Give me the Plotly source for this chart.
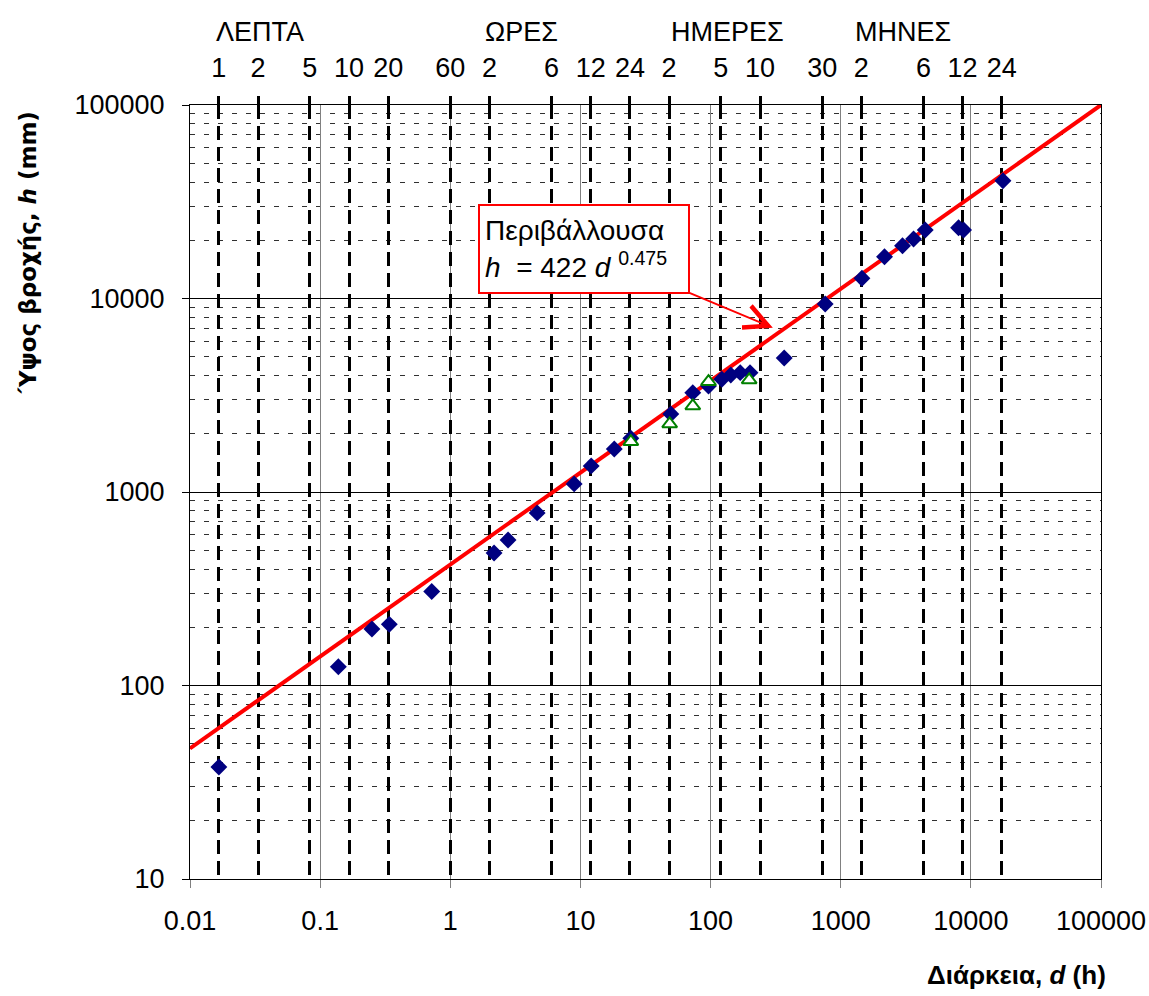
import math
import plotly.graph_objects as go

# ---- data ----
# observed maximum rainfall depths (navy diamonds): duration d (h), depth h (mm)
obs_d = [0.01667, 0.138, 0.25, 0.34, 0.72, 2.17, 2.78, 4.65, 8.95, 12.1, 18.2, 24.4,
         49.5, 73, 96.4, 122, 143, 169, 201, 368, 760, 1456, 2171, 2985, 3630, 4461,
         8044, 8790, 17650]
obs_h = [37.9, 125, 196, 207, 306, 484, 565, 780, 1101, 1364, 1669, 1896,
         2532, 3261, 3532, 3824, 4027, 4137, 4137, 4928, 9367, 12720, 16440, 18740,
         20300, 22590, 23210, 22590, 40600]
# second series (green open triangles)
tri_d = [24.4, 48.5, 73, 96.4, 198]
tri_h = [1820, 2248, 2784, 3718, 3793]
# envelope line h = 422 d^0.475 (end points)
env_d = [0.01, 100000]
env_h = [47.3, 100000]

# reference durations (h) shown as dashed lines with top labels
dur_vals = [1/60, 2/60, 5/60, 10/60, 20/60, 1, 2, 6, 12, 24, 48, 120, 240, 720,
            1440, 4320, 8640, 17280]
dur_text = ["1", "2", "5", "10", "20", "60", "2", "6", "12", "24", "2", "5", "10",
            "30", "2", "6", "12", "24"]
group_names = ["ΛΕΠΤΑ", "ΩΡΕΣ", "ΗΜΕΡΕΣ", "ΜΗΝΕΣ"]
group_start = [1/60, 2, 48, 1440]
group_shift = [-5, -6, 0, -8]

x_ticks = [0.01, 0.1, 1, 10, 100, 1000, 10000, 100000]
x_ticktext = ["0.01", "0.1", "1", "10", "100", "1000", "10000", "100000"]
y_ticks = [10, 100, 1000, 10000, 100000]
y_ticktext = ["10", "100", "1000", "10000", "100000"]

FONT = "Liberation Sans, Arial, sans-serif"

fig = go.Figure()

# invisible helper trace so the top (duration) axis is drawn
fig.add_trace(go.Scatter(x=[dur_vals[0]], y=[y_ticks[0]], xaxis="x2", mode="markers",
                         marker=dict(opacity=0), hoverinfo="skip", showlegend=False))

fig.add_trace(go.Scatter(x=env_d, y=env_h, mode="lines",
                         line=dict(color="#FF0000", width=4), showlegend=False))
fig.add_trace(go.Scatter(x=obs_d, y=obs_h, mode="markers",
                         marker=dict(symbol="diamond", size=13, color="#000080",
                                     line=dict(width=0)), showlegend=False))
fig.add_trace(go.Scatter(x=tri_d, y=tri_h, mode="markers",
                         marker=dict(symbol="triangle-up", size=13, color="white",
                                     line=dict(width=2, color="#008000")),
                         showlegend=False))

fig.update_layout(
    width=1149, height=996,
    margin=dict(l=190, r=48, t=105, b=117, autoexpand=False),
    paper_bgcolor="white", plot_bgcolor="white",
    font=dict(family=FONT, size=27, color="black"),
    xaxis=dict(type="log", range=[-2, 5], tickvals=x_ticks, ticktext=x_ticktext,
               showgrid=True, gridcolor="#808080", gridwidth=1,
               showline=True, linecolor="black", linewidth=1, mirror=True,
               ticks="outside", ticklen=8, tickcolor="#808080", tickwidth=1,
               ticklabelstandoff=10, zeroline=False, automargin=False),
    xaxis2=dict(type="log", range=[-2, 5], overlaying="x", side="top", anchor="y",
                tickvals=dur_vals, ticktext=dur_text,
                showgrid=True, gridcolor="black", gridwidth=3, griddash="14px,7px",
                showline=False, ticks="outside", ticklen=8, tickwidth=3,
                tickcolor="black", ticklabelstandoff=8, zeroline=False,
                automargin=False),
    yaxis=dict(type="log", range=[1, 5], tickvals=y_ticks, ticktext=y_ticktext,
               showgrid=True, gridcolor="black", gridwidth=1,
               minor=dict(showgrid=True, dtick="D1", gridcolor="#303030",
                          gridwidth=1, griddash="5px,9px"),
               showline=True, linecolor="black", linewidth=1, mirror=True,
               ticks="outside", ticklen=7, tickcolor="black",
               ticklabelstandoff=12, zeroline=False, automargin=False),
)

annotations = []
for name, start, sh in zip(group_names, group_start, group_shift):
    annotations.append(dict(text=name, xref="x2", yref="paper", x=math.log10(start),
                            y=1.094, xanchor="left", yanchor="middle", xshift=sh,
                            showarrow=False, font=dict(size=27)))

# axis titles
annotations.append(dict(text="<b>Ύψος βροχής, <i>h</i> (mm)</b>", xref="paper", yref="paper",
                        x=-0.1776, y=0.809, textangle=-90, showarrow=False,
                        xanchor="center", yanchor="middle",
                        font=dict(family="DejaVu Sans, sans-serif", size=23)))
annotations.append(dict(text="<b>Διάρκεια, <i>d</i> (h)</b>", xref="paper", yref="paper",
                        x=1.008, y=-0.124, xanchor="right", yanchor="middle",
                        showarrow=False, font=dict(size=26)))

# envelope label with arrow
annotations.append(dict(text="Περιβάλλουσα<br><i>h</i>  = 422 <i>d</i> <sup>0.475</sup>",
                        x=math.log10(301), y=math.log10(7063),
                        xref="x", yref="y", ax=-189, ay=-79, axref="pixel", ayref="pixel",
                        showarrow=True, arrowhead=5, arrowsize=2.3, arrowwidth=2,
                        arrowcolor="#FF0000", align="left",
                        bgcolor="white", bordercolor="#FF0000", borderwidth=2,
                        borderpad=5, width=198, height=76,
                        font=dict(size=28)))
fig.update_layout(annotations=annotations)

fig.write_html("out.html", config={"displayModeBar": False},
               post_script="document.body.style.margin='0';document.body.style.padding='0';")
